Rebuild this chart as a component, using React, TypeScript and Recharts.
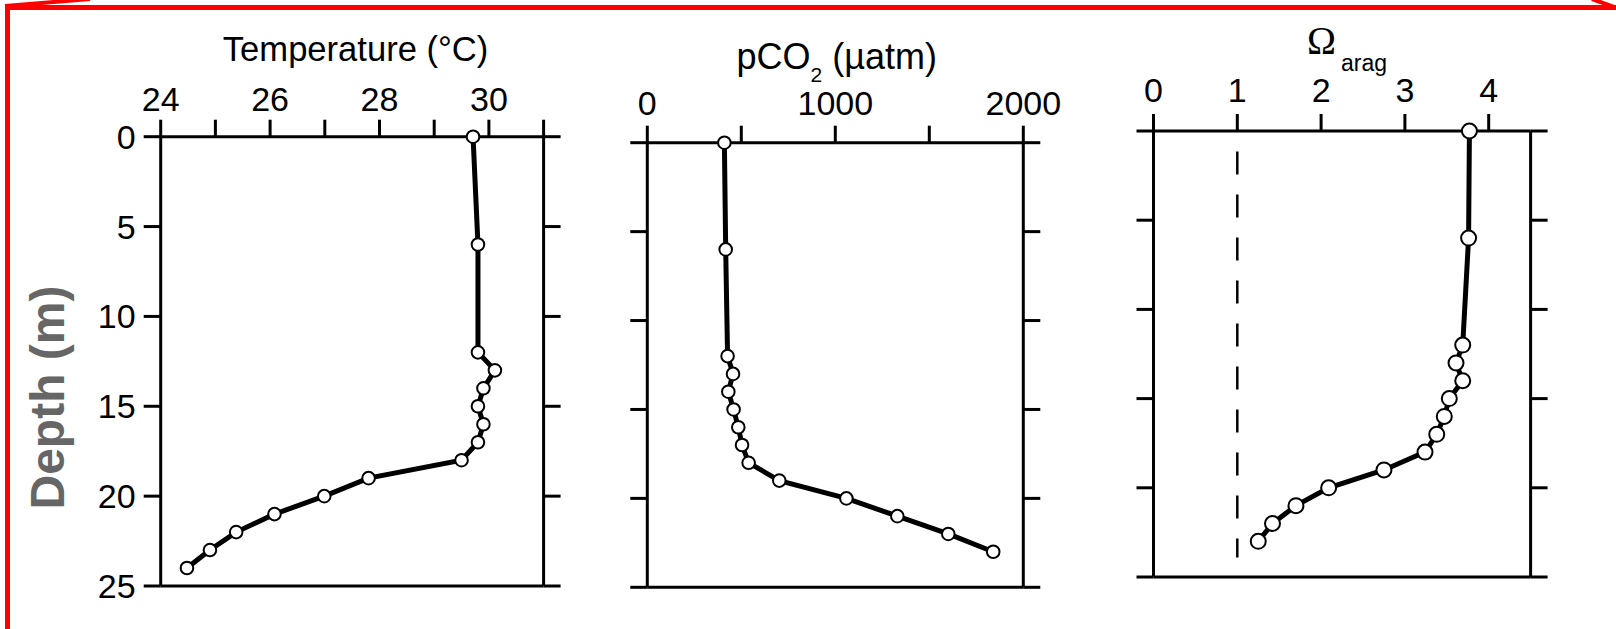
import React from "react";
import { LineChart, Line, XAxis, YAxis, ReferenceLine } from "recharts";

// depth (m) of each sample
const DEPTH_TEMP = [0, 6, 12, 13, 14, 15, 16, 17, 18, 19, 20, 21, 22, 23, 24];
const DEPTH_CHEM = [0, 6, 12, 13, 14, 15, 16, 17, 18, 19, 20, 21, 22, 23];

const TEMP = [29.71, 29.8, 29.8, 30.11, 29.9, 29.8, 29.9, 29.8, 29.5, 27.8, 26.99, 26.08, 25.38, 24.9, 24.48];
const PCO2 = [410, 417, 427, 456, 431, 459, 484, 504, 539, 702, 1059, 1330, 1601, 1840];
const OMEGA = [3.77, 3.76, 3.69, 3.61, 3.69, 3.53, 3.47, 3.38, 3.24, 2.75, 2.09, 1.7, 1.42, 1.25];

const DEPTH_TICKS = [0, 5, 10, 15, 20, 25];
const TEMP_TICKS = [24, 25, 26, 27, 28, 29, 30, 31];
const TEMP_LABELS = [24, 26, 28, 30];
const PCO2_TICKS = [0, 500, 1000, 1500, 2000];
const PCO2_LABELS = [0, 1000, 2000];
const OMEGA_TICKS = [0, 1, 2, 3, 4];
const OMEGA_LABELS = [0, 1, 2, 3, 4];

const W = 1616;
const H = 629;
const FONT = "Liberation Sans, Arial, sans-serif";
const axisStyle = { stroke: "#000", strokeWidth: 3 };

const rows = (depths: number[], vals: number[]) => depths.map((d, i) => ({ depth: d, v: vals[i] }));

// plot box given as left/top/right/bottom pixel edges; each axis takes 1px
function Panel({ data, domain, ticks, labels, box, tickMargin, depthLabels, dotR, children }: any) {
  const fmt = (v: number) => (labels.includes(v) ? String(v) : "");
  const margin = { left: box.l - 1, top: box.t - 1, right: W - box.r - 1, bottom: H - box.b - 1 };
  return (
    <div style={{ position: "absolute", left: 0, top: 0 }}>
      <LineChart layout="vertical" width={W} height={H} data={data} margin={margin}>
        <XAxis
          xAxisId="top"
          type="number"
          orientation="top"
          domain={domain}
          ticks={ticks}
          interval={0}
          tickFormatter={fmt}
          height={1}
          tickSize={17}
          tickMargin={tickMargin}
          axisLine={axisStyle}
          tickLine={axisStyle}
          tick={{ fill: "#000", fontSize: 34, fontFamily: FONT }}
        />
        <XAxis
          xAxisId="bot"
          type="number"
          orientation="bottom"
          domain={domain}
          ticks={ticks}
          interval={0}
          tickFormatter={() => ""}
          height={1}
          tickSize={18}
          axisLine={axisStyle}
          tickLine={axisStyle}
        />
        <YAxis
          yAxisId="left"
          type="number"
          dataKey="depth"
          domain={[0, 25]}
          ticks={DEPTH_TICKS}
          interval={0}
          width={1}
          tickSize={17}
          tickMargin={8}
          tickFormatter={depthLabels ? (v: number) => String(v) : () => ""}
          axisLine={axisStyle}
          tickLine={axisStyle}
          tick={{ fill: "#000", fontSize: 34, fontFamily: FONT }}
        />
        <YAxis
          yAxisId="right"
          type="number"
          orientation="right"
          dataKey="depth"
          domain={[0, 25]}
          ticks={DEPTH_TICKS}
          interval={0}
          width={1}
          tickSize={17}
          tickFormatter={() => ""}
          axisLine={axisStyle}
          tickLine={axisStyle}
        />
        {children}
        <Line
          xAxisId="top"
          yAxisId="left"
          dataKey="v"
          type="linear"
          stroke="#000"
          strokeWidth={5}
          dot={{ r: dotR, fill: "#fff", stroke: "#000", strokeWidth: 2 }}
          activeDot={false}
          isAnimationActive={false}
        />
      </LineChart>
    </div>
  );
}

export default function App() {
  return (
    <div style={{ position: "absolute", left: 0, top: 0, width: W, height: H, background: "#fff", overflow: "hidden" }}>
      <Panel
        data={rows(DEPTH_TEMP, TEMP)}
        domain={[24, 31]}
        ticks={TEMP_TICKS}
        labels={TEMP_LABELS}
        box={{ l: 160.7, t: 136.7, r: 543.6, b: 586 }}
        tickMargin={9}
        depthLabels
        dotR={6.3}
      />
      <Panel
        data={rows(DEPTH_CHEM, PCO2)}
        domain={[0, 2000]}
        ticks={PCO2_TICKS}
        labels={PCO2_LABELS}
        box={{ l: 647.3, t: 142.7, r: 1023.3, b: 587.3 }}
        tickMargin={10.5}
        dotR={6.3}
      />
      <Panel
        data={rows(DEPTH_CHEM, OMEGA)}
        domain={[0, 4.5]}
        ticks={OMEGA_TICKS}
        labels={OMEGA_LABELS}
        box={{ l: 1153.5, t: 131, r: 1530.6, b: 577 }}
        tickMargin={12}
        dotR={7.5}
      >
        <ReferenceLine
          xAxisId="top"
          yAxisId="left"
          segment={[{ x: 1, y: 1.15 }, { x: 1, y: 23.9 }]}
          stroke="#000"
          strokeWidth={2.5}
          strokeDasharray="23 20"
        />
      </Panel>
      <svg width={W} height={H} style={{ position: "absolute", left: 0, top: 0, pointerEvents: "none" }}>
        <g fontFamily="Liberation Sans" fill="#000">
          <text x={355.6} y={61} fontSize={34.6} textAnchor="middle">Temperature (°C)</text>
          <text x={736.5} y={69} fontSize={36}>
            pCO<tspan fontSize={21} dy={13}>2</tspan>
            <tspan dy={-13}> (µatm)</tspan>
          </text>
          <text x={1307} y={54} fontSize={39} fontFamily="Liberation Serif">Ω</text>
          <text x={1341} y={71} fontSize={23}>arag</text>
          <text
            transform="translate(63.5,397.5) rotate(-90)"
            textAnchor="middle"
            fontSize={48}
            fontWeight={700}
            fill="#666"
          >
            Depth (m)
          </text>
        </g>
        <g stroke="#f00" fill="none">
          <polyline points="7.5,640 7.5,7.5 1620,7.5" strokeWidth={5} />
          <line x1={5} y1={6} x2={90} y2={-1} strokeWidth={4} />
          <line x1={1592} y1={-1} x2={1620} y2={9} strokeWidth={4} />
        </g>
      </svg>
    </div>
  );
}
